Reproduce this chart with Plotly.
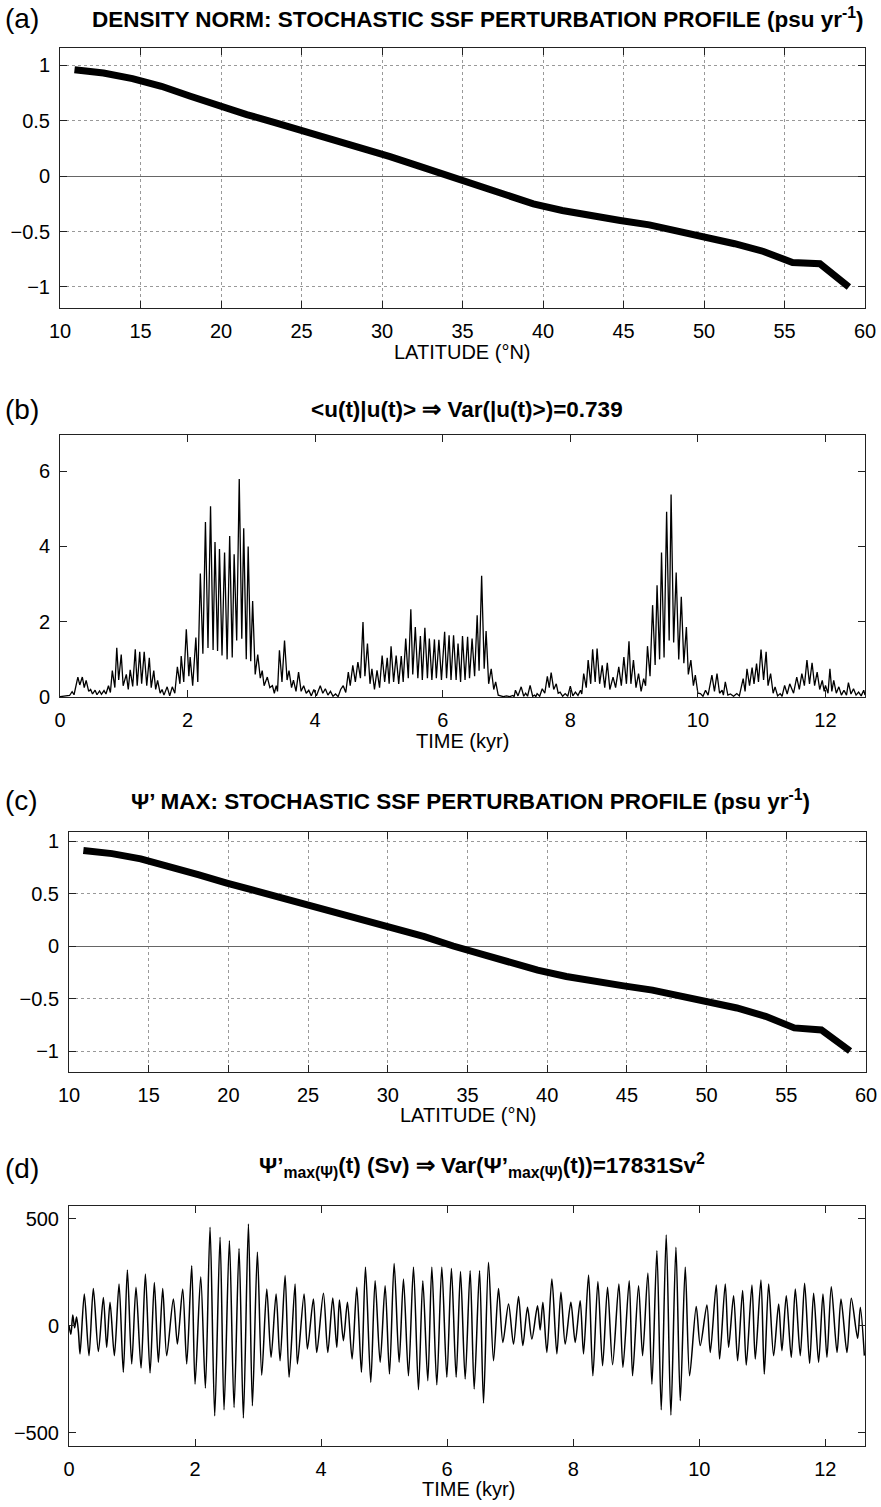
import plotly.graph_objects as go

# ---------------- data ----------------
lat = [10.9, 12.7, 14.5, 16.3, 18.1, 19.9, 21.6, 23.4, 25.2, 27.0, 28.7, 30.5, 32.3, 34.1,
       35.9, 37.6, 39.4, 41.2, 43.0, 44.8, 46.6, 48.3, 50.1, 51.9, 53.7, 55.5, 57.2, 59.0]
ssf_density_norm = [0.96, 0.93, 0.88, 0.81, 0.72, 0.63, 0.555, 0.48, 0.405, 0.33, 0.255, 0.175, 0.09, 0.0,
                    -0.09, -0.17, -0.25, -0.31, -0.36, -0.40, -0.44, -0.49, -0.55, -0.61, -0.68, -0.78, -0.79, -1.0]
ssf_psi_max = [0.91, 0.88, 0.83, 0.76, 0.68, 0.60, 0.53, 0.46, 0.39, 0.32, 0.25, 0.17, 0.09, 0.0,
               -0.08, -0.16, -0.23, -0.29, -0.34, -0.38, -0.42, -0.47, -0.53, -0.59, -0.67, -0.78, -0.80, -1.0]

time_u = [0.00, 0.08, 0.15, 0.19, 0.22, 0.28, 0.31, 0.35, 0.38, 0.41, 0.45, 0.48, 0.51, 0.55, 0.58, 0.62, 0.65, 0.69, 0.72, 0.76,
          0.79, 0.82, 0.86, 0.89, 0.92, 0.96, 0.99, 1.04, 1.07, 1.10, 1.14, 1.18, 1.21, 1.25, 1.28, 1.32, 1.36, 1.40, 1.43, 1.47,
          1.50, 1.53, 1.57, 1.60, 1.63, 1.68, 1.72, 1.76, 1.80, 1.84, 1.88, 1.90, 1.94, 1.98, 2.02, 2.04, 2.08, 2.13, 2.16, 2.20,
          2.24, 2.28, 2.32, 2.36, 2.40, 2.43, 2.47, 2.50, 2.54, 2.58, 2.62, 2.66, 2.70, 2.73, 2.77, 2.81, 2.85, 2.88, 2.92, 2.95,
          2.99, 3.02, 3.06, 3.10, 3.14, 3.17, 3.20, 3.25, 3.29, 3.33, 3.36, 3.39, 3.41, 3.44, 3.48, 3.52, 3.56, 3.59, 3.63, 3.66,
          3.70, 3.74, 3.78, 3.82, 3.86, 3.90, 3.94, 3.98, 4.02, 4.08, 4.12, 4.16, 4.20, 4.24, 4.28, 4.32, 4.36, 4.40, 4.44, 4.48,
          4.52, 4.55, 4.59, 4.63, 4.67, 4.71, 4.75, 4.78, 4.82, 4.86, 4.89, 4.93, 4.97, 5.01, 5.05, 5.09, 5.13, 5.16, 5.19, 5.23,
          5.27, 5.31, 5.35, 5.38, 5.42, 5.46, 5.50, 5.53, 5.57, 5.61, 5.65, 5.68, 5.72, 5.76, 5.79, 5.83, 5.87, 5.90, 5.94, 5.98,
          6.03, 6.06, 6.10, 6.13, 6.17, 6.21, 6.24, 6.28, 6.31, 6.35, 6.39, 6.42, 6.46, 6.50, 6.54, 6.57, 6.61, 6.65, 6.68, 6.72,
          6.76, 6.80, 6.83, 6.87, 6.90, 6.95, 7.00, 7.05, 7.10, 7.12, 7.14, 7.18, 7.23, 7.27, 7.30, 7.33, 7.37, 7.41, 7.44, 7.46,
          7.48, 7.52, 7.56, 7.60, 7.64, 7.67, 7.70, 7.74, 7.78, 7.81, 7.84, 7.88, 7.92, 7.96, 8.00, 8.04, 8.08, 8.12, 8.16, 8.18,
          8.21, 8.25, 8.28, 8.32, 8.35, 8.39, 8.42, 8.46, 8.50, 8.54, 8.58, 8.62, 8.67, 8.71, 8.76, 8.80, 8.84, 8.88, 8.92, 8.95,
          8.99, 9.03, 9.07, 9.11, 9.15, 9.18, 9.21, 9.25, 9.29, 9.33, 9.36, 9.40, 9.43, 9.47, 9.51, 9.55, 9.58, 9.62, 9.66, 9.70,
          9.74, 9.78, 9.82, 9.85, 9.89, 9.93, 9.96, 10.00, 10.04, 10.08, 10.12, 10.16, 10.22, 10.26, 10.30, 10.34, 10.38, 10.40, 10.43, 10.47,
          10.51, 10.56, 10.61, 10.65, 10.71, 10.74, 10.77, 10.81, 10.85, 10.88, 10.92, 10.95, 10.99, 11.03, 11.07, 11.10, 11.14, 11.18, 11.21, 11.25,
          11.29, 11.32, 11.36, 11.40, 11.44, 11.50, 11.55, 11.59, 11.63, 11.67, 11.71, 11.75, 11.79, 11.83, 11.87, 11.91, 11.95, 11.98, 12.00, 12.04,
          12.07, 12.10, 12.13, 12.17, 12.21, 12.25, 12.29, 12.33, 12.36, 12.40, 12.44, 12.48, 12.52, 12.56, 12.60, 12.62]
u_norm = [0.01, 0.02, 0.04, 0.14, 0.06, 0.53, 0.32, 0.53, 0.25, 0.44, 0.15, 0.20, 0.08, 0.18, 0.06, 0.16, 0.07, 0.17, 0.08, 0.30,
          0.12, 0.70, 0.25, 1.31, 0.45, 1.13, 0.30, 0.60, 0.20, 0.72, 0.28, 1.27, 0.30, 1.20, 0.35, 1.20, 0.30, 1.04, 0.25, 0.70,
          0.20, 0.44, 0.10, 0.20, 0.05, 0.27, 0.03, 0.27, 0.10, 0.80, 0.35, 1.09, 0.40, 1.80, 0.55, 1.06, 0.30, 1.58, 0.40, 3.28,
          1.15, 4.65, 1.30, 5.07, 1.25, 4.12, 1.22, 3.93, 1.10, 3.84, 1.00, 4.28, 1.05, 3.79, 1.50, 5.79, 1.55, 4.48, 1.00, 4.00,
          0.95, 2.55, 0.60, 1.13, 0.50, 0.70, 0.30, 0.53, 0.25, 0.30, 0.10, 0.30, 0.15, 1.24, 0.40, 1.50, 0.45, 0.70, 0.25, 0.45,
          0.15, 0.66, 0.15, 0.30, 0.10, 0.18, 0.03, 0.20, 0.03, 0.30, 0.10, 0.22, 0.05, 0.15, 0.02, 0.08, 0.01, 0.20, 0.30, 0.12,
          0.66, 0.30, 0.84, 0.40, 0.93, 0.50, 1.99, 0.55, 1.42, 0.35, 0.75, 0.20, 0.71, 0.25, 1.10, 0.40, 1.04, 0.35, 1.35, 0.40,
          1.10, 0.35, 1.09, 0.40, 1.55, 0.50, 2.33, 0.60, 1.86, 0.50, 1.62, 0.45, 1.84, 0.50, 1.55, 0.45, 1.53, 0.50, 1.52, 0.45,
          1.73, 0.50, 1.64, 0.45, 1.64, 0.45, 1.42, 0.40, 1.62, 0.45, 1.60, 0.50, 1.55, 0.55, 2.17, 0.70, 3.22, 0.75, 1.75, 0.35,
          0.75, 0.20, 0.40, 0.05, 0.03, 0.01, 0.03, 0.01, 0.04, 0.01, 0.18, 0.03, 0.27, 0.02, 0.10, 0.02, 0.31, 0.02, 0.05, 0.01,
          0.09, 0.02, 0.22, 0.10, 0.55, 0.25, 0.65, 0.20, 0.35, 0.10, 0.13, 0.02, 0.09, 0.02, 0.29, 0.03, 0.13, 0.04, 0.18, 0.08,
          0.62, 0.25, 0.98, 0.35, 1.27, 0.40, 1.29, 0.35, 0.84, 0.25, 0.91, 0.20, 0.53, 0.25, 0.80, 0.30, 1.06, 0.35, 1.48, 0.35,
          0.98, 0.25, 0.62, 0.15, 0.49, 0.30, 1.35, 0.55, 2.44, 0.85, 2.97, 1.00, 3.84, 1.05, 4.92, 1.50, 5.38, 1.45, 3.31, 1.00,
          2.66, 0.90, 1.86, 0.60, 0.98, 0.30, 0.58, 0.10, 0.09, 0.02, 0.18, 0.05, 0.58, 0.15, 0.62, 0.10, 0.18, 0.05, 0.40, 0.05,
          0.08, 0.02, 0.09, 0.03, 0.49, 0.15, 0.75, 0.30, 0.78, 0.35, 0.89, 0.40, 1.26, 0.45, 1.20, 0.30, 0.62, 0.10, 0.27, 0.03,
          0.09, 0.02, 0.31, 0.08, 0.35, 0.10, 0.53, 0.20, 0.62, 0.30, 0.98, 0.35, 0.91, 0.30, 0.66, 0.20, 0.44, 0.15, 0.31, 0.10,
          0.75, 0.15, 0.44, 0.10, 0.27, 0.05, 0.18, 0.05, 0.38, 0.08, 0.22, 0.05, 0.13, 0.03, 0.18, 0.05]

time_psi = [0.000, 0.030, 0.060, 0.090, 0.120, 0.150, 0.175, 0.243, 0.317, 0.386, 0.466, 0.545, 0.598, 0.651, 0.720, 0.794, 0.862, 0.926, 0.995, 1.063,
            1.143, 1.212, 1.286, 1.354, 1.418, 1.487, 1.550, 1.656, 1.720, 1.804, 1.868, 1.947, 2.000, 2.090, 2.164, 2.238, 2.312, 2.397, 2.460, 2.545,
            2.619, 2.698, 2.767, 2.847, 2.910, 2.989, 3.058, 3.138, 3.206, 3.286, 3.349, 3.429, 3.492, 3.587, 3.624, 3.730, 3.783, 3.878, 3.931, 4.037,
            4.106, 4.185, 4.249, 4.291, 4.354, 4.418, 4.492, 4.566, 4.640, 4.704, 4.788, 4.857, 4.937, 5.016, 5.085, 5.159, 5.238, 5.307, 5.386, 5.466,
            5.545, 5.614, 5.693, 5.757, 5.836, 5.915, 5.995, 6.068, 6.143, 6.212, 6.286, 6.365, 6.429, 6.514, 6.577, 6.656, 6.736, 6.815, 6.884, 6.974,
            7.053, 7.133, 7.201, 7.275, 7.344, 7.434, 7.476, 7.519, 7.582, 7.662, 7.741, 7.805, 7.873, 7.963, 8.032, 8.111, 8.164, 8.244, 8.312, 8.392,
            8.466, 8.545, 8.625, 8.725, 8.789, 8.889, 8.942, 9.037, 9.101, 9.185, 9.249, 9.328, 9.397, 9.476, 9.550, 9.630, 9.699, 9.778, 9.847, 9.952,
            10.016, 10.122, 10.175, 10.270, 10.323, 10.413, 10.466, 10.545, 10.609, 10.688, 10.746, 10.836, 10.889, 10.979, 11.032, 11.101, 11.180, 11.260, 11.312, 11.381,
            11.460, 11.524, 11.603, 11.672, 11.751, 11.815, 11.894, 11.963, 12.026, 12.095, 12.186, 12.249, 12.344, 12.413, 12.513, 12.556, 12.620]
psi_max = [0, -40, 50, -10, 40, -30, -132, 148, -140, 174, -121, 132, -101, 109, -140, 195, -218, 260, -179, 179,
           -198, 241, -221, 202, -171, 174, -140, 125, -86, 171, -179, 280, -273, 229, -291, 460, -421, 413, -393, 397,
           -382, 361, -431, 475, -374, 343, -231, 171, -148, 148, -164, 234, -241, 195, -179, 148, -109, 125, -125, 151,
           -125, 129, -101, 120, -70, 109, -156, 179, -218, 273, -265, 210, -171, 187, -226, 291, -171, 218, -234, 273,
           -299, 210, -257, 273, -276, 273, -241, 267, -241, 253, -249, 257, -296, 257, -361, 296, -164, 174, -78, 101,
           -86, 136, -93, 86, -62, 93, -20, 109, -125, 218, -132, 156, -86, 109, -78, 117, -132, 237, -234, 206,
           -187, 179, -182, 195, -195, 210, -234, 187, -140, 246, -273, 350, -393, 424, -417, 366, -350, 273, -234, 90,
           -93, 97, -125, 190, -156, 195, -101, 140, -164, 164, -184, 190, -156, 213, -226, 195, -140, 101, -117, 140,
           -148, 171, -140, 198, -176, 151, -171, 148, -148, 182, -125, 125, -125, 128, -59, 86, -140]

assert len(time_u) == len(u_norm)
assert len(time_psi) == len(psi_max)

lat_ticks = [10, 15, 20, 25, 30, 35, 40, 45, 50, 55, 60]
prof_ticks = [-1, -0.5, 0, 0.5, 1]
time_ticks = [0, 2, 4, 6, 8, 10, 12]
u_ticks = [0, 2, 4, 6]
psi_ticks = [-500, 0, 500]

# ---------------- figure ----------------
W, H = 881, 1507
def px(x):
    return x / W
def py(y):
    return 1 - y / H

fig = go.Figure()
fig.add_trace(go.Scatter(x=lat, y=ssf_density_norm, mode="lines",
                         line=dict(color="black", width=7), xaxis="x", yaxis="y", showlegend=False))
fig.add_trace(go.Scatter(x=time_u, y=u_norm, mode="lines",
                         line=dict(color="black", width=1.3), xaxis="x2", yaxis="y2", showlegend=False))
fig.add_trace(go.Scatter(x=lat, y=ssf_psi_max, mode="lines",
                         line=dict(color="black", width=7), xaxis="x3", yaxis="y3", showlegend=False))
fig.add_trace(go.Scatter(x=time_psi, y=psi_max, mode="lines", line_shape="spline",
                         line=dict(color="black", width=1.5, smoothing=0.8), xaxis="x4", yaxis="y4", showlegend=False))

tickfont = dict(family="Liberation Sans, Arial, sans-serif", size=20, color="black")
common = dict(ticks="inside", ticklen=7, tickwidth=1, tickcolor="#222", showline=True, linecolor="#222",
              linewidth=1, mirror="ticks", tickfont=tickfont, ticklabelstandoff=5, automargin=False)

grid = dict(showgrid=True, gridcolor="#999", griddash="dot", gridwidth=1)
nogrid = dict(showgrid=False, zeroline=False)

fig.update_layout(
    width=W, height=H, autosize=False, margin=dict(l=0, r=0, t=0, b=0),
    plot_bgcolor="white", paper_bgcolor="white",
    xaxis=dict(domain=[px(60), px(865)], range=[10, 60], tickvals=lat_ticks, anchor="y",
               zeroline=False, **grid, **common),
    yaxis=dict(domain=[py(308), py(47.5)], range=[-1.19, 1.16], tickvals=prof_ticks, anchor="x",
               zeroline=True, zerolinecolor="#666", zerolinewidth=1, **grid, **common),
    xaxis2=dict(domain=[px(60), px(865)], range=[0, 12.62], tickvals=time_ticks, anchor="y2", **nogrid, **common),
    yaxis2=dict(domain=[py(697), py(435)], range=[0, 6.96], tickvals=u_ticks, anchor="x2", **nogrid, **common),
    xaxis3=dict(domain=[px(69), px(866)], range=[10, 60], tickvals=lat_ticks, anchor="y3",
                zeroline=False, **grid, **common),
    yaxis3=dict(domain=[py(1072), py(832)], range=[-1.2, 1.086], tickvals=prof_ticks, anchor="x3",
                zeroline=True, zerolinecolor="#666", zerolinewidth=1, **grid, **common),
    xaxis4=dict(domain=[px(69), px(865)], range=[0, 12.63], tickvals=time_ticks, anchor="y4", **nogrid, **common),
    yaxis4=dict(domain=[py(1446), py(1206)], range=[-562, 559], tickvals=psi_ticks, anchor="x4", **nogrid, **common),
)

lab_font = dict(family="Liberation Sans, Arial, sans-serif", size=28, color="black")
title_font = dict(family="Liberation Sans, Arial, sans-serif", size=22.5, color="black")
axis_font = dict(family="Liberation Sans, Arial, sans-serif", size=20, color="black")

def ann(text, x, y, font, xanchor="center"):
    fig.add_annotation(text=text, x=px(x), y=py(y), xref="paper", yref="paper",
                       xanchor=xanchor, yanchor="middle", showarrow=False, font=font)

ann("(a)", 3, 18, lab_font, "left")
ann("<b>DENSITY NORM: STOCHASTIC SSF PERTURBATION PROFILE (psu yr<sup>-1</sup>)</b>", 478, 18, title_font)
ann("LATITUDE (°N)", 463, 352, axis_font)

ann("(b)", 3, 410, lab_font, "left")
ann("<b>&lt;u(t)|u(t)&gt; ⇒ Var(|u(t)&gt;)=0.739</b>", 467, 410, title_font)
ann("TIME (kyr)", 463, 741, axis_font)

ann("(c)", 3, 800, lab_font, "left")
ann("<b>Ψ’ MAX: STOCHASTIC SSF PERTURBATION PROFILE (psu yr<sup>-1</sup>)</b>", 470, 800, title_font)
ann("LATITUDE (°N)", 468, 1115, axis_font)

ann("(d)", 3, 1168, lab_font, "left")
ann("<b>Ψ’<sub>max(Ψ)</sub>(t) (Sv) ⇒ Var(Ψ’<sub>max(Ψ)</sub>(t))=17831Sv<sup>2</sup></b>", 482, 1165, title_font)
ann("TIME (kyr)", 468, 1489, axis_font)

fig.write_html("out.html", config={"displayModeBar": False},
               post_script="document.body.style.margin='0';document.body.style.overflow='hidden';")
